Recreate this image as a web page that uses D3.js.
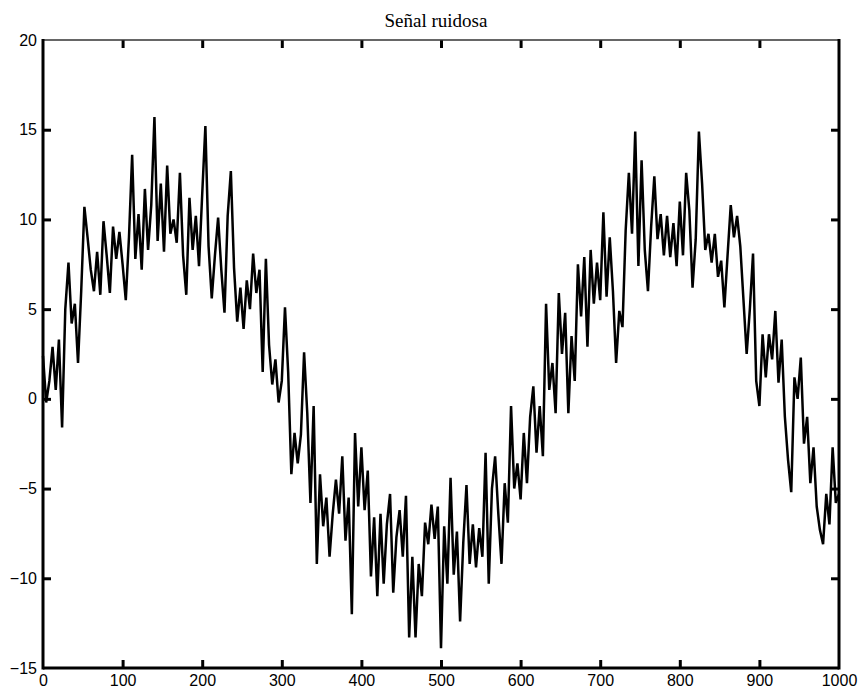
<!DOCTYPE html>
<html>
<head>
<meta charset="utf-8">
<script src="https://cdn.jsdelivr.net/npm/d3@7"></script>
<style>
  body { margin: 0; background: #fff; }
  .tick text { font-family: "Liberation Sans", Arial, sans-serif; font-size: 16px; fill: #000; }
</style>
</head>
<body>
<svg id="chart" width="861" height="693"></svg>
<script>
// noisy signal, one value every `step` samples
const step = 4;
const signal = [
  // 0 - 96
  2.4, -0.2, 1.0, 2.9, 0.5, 3.3, -1.6, 5.0, 7.6, 4.2, 5.3, 2.0, 6.0, 10.7, 9.0, 7.2, 6.0, 8.2, 5.8, 9.9, 8.0, 5.9, 9.6, 7.8, 9.3,
  // 100 - 196
  7.5, 5.5, 9.0, 13.6, 7.8, 10.3, 7.2, 11.7, 8.3, 10.8, 15.7, 8.8, 12.0, 8.2, 13.0, 9.2, 10.0, 8.7, 12.6, 8.0, 5.8, 11.2, 8.3, 10.2, 7.4,
  // 200 - 296
  11.4, 15.2, 8.5, 5.6, 8.0, 10.1, 7.2, 4.8, 10.2, 12.7, 7.3, 4.3, 6.2, 3.9, 6.6, 5.0, 8.1, 5.9, 7.2, 1.5, 7.8, 3.0, 0.8, 2.2, -0.2,
  // 300 - 396
  1.0, 5.1, 1.5, -4.2, -1.9, -3.6, -2.0, 2.6, -0.8, -5.8, -0.4, -9.2, -4.2, -7.1, -5.5, -8.8, -6.4, -4.5, -6.4, -3.2, -7.9, -5.5, -12.0, -1.9, -6.0,
  // 400 - 496
  -2.7, -6.2, -4.0, -9.9, -6.6, -11.0, -6.4, -10.3, -7.0, -5.3, -10.8, -7.7, -6.2, -8.8, -5.4, -13.3, -8.8, -13.3, -9.2, -11.0, -6.9, -8.1, -5.9, -7.8, -6.0,
  // 500 - 596
  -13.9, -7.1, -10.3, -4.4, -9.8, -7.4, -12.4, -8.0, -4.8, -9.2, -7.0, -9.4, -7.2, -8.8, -3.0, -10.3, -5.0, -3.2, -6.4, -9.2, -4.7, -6.9, -0.4, -5.0, -3.6,
  // 600 - 696
  -5.6, -1.9, -4.7, -1.0, 0.7, -3.0, -0.4, -3.2, 5.3, 0.5, 2.0, -0.8, 5.9, 2.5, 4.8, -0.8, 3.5, 1.0, 7.5, 4.6, 7.9, 2.9, 8.3, 5.3, 7.6,
  // 700 - 796
  5.5, 10.4, 5.7, 9.0, 6.0, 2.0, 4.9, 4.0, 9.4, 12.6, 9.2, 14.9, 7.4, 13.3, 8.3, 6.0, 9.6, 12.4, 8.9, 10.3, 8.0, 10.2, 7.9, 9.8, 7.4,
  // 800 - 896
  11.0, 8.0, 12.6, 10.5, 6.2, 8.9, 14.9, 12.0, 8.3, 9.2, 7.6, 9.2, 6.8, 7.7, 5.1, 8.0, 10.8, 9.0, 10.2, 8.5, 5.5, 2.5, 5.0, 8.1, 1.0,
  // 900 - 1000
  -0.4, 3.6, 1.2, 3.6, 2.2, 4.9, 0.9, 3.3, -1.0, -3.4, -5.2, 1.2, 0.0, 2.3, -2.5, -1.0, -4.7, -2.7, -6.0, -7.3, -8.1, -5.3, -7.0, -2.7, -5.8,
  -5.3
];
const xTicks = [0, 100, 200, 300, 400, 500, 600, 700, 800, 900, 1000];
const yTicks = [-15, -10, -5, 0, 5, 10, 15, 20];
const title = "Señal ruidosa";

const svg = d3.select("#chart");
const margin = { left: 43, right: 22, top: 40, bottom: 25 };
const width = 861, height = 693;
const innerW = width - margin.left - margin.right;
const innerH = height - margin.top - margin.bottom;

const xScale = d3.scaleLinear().domain([0, 1000]).range([0, innerW]);
const yScale = d3.scaleLinear().domain([-15, 20]).range([innerH, 0]);

const g = svg.append("g")
  .attr("transform", `translate(${margin.left}, ${margin.top})`);

// signal
const line = d3.line()
  .x((d, i) => xScale(i * step))
  .y(d => yScale(d));

g.append("path")
  .datum(signal)
  .attr("fill", "none")
  .attr("stroke", "#000")
  .attr("stroke-width", 2.5)
  .attr("stroke-linejoin", "miter")
  .attr("d", line);

// axes, ticks pointing inward
const tickLen = 8;
const axBottom = g.append("g")
  .attr("transform", `translate(0, ${innerH})`)
  .call(d3.axisBottom(xScale).tickValues(xTicks).tickFormat(d3.format("d"))
    .tickSizeInner(-tickLen).tickSizeOuter(0).tickPadding(7));
const axTop = g.append("g")
  .call(d3.axisTop(xScale).tickValues(xTicks.slice(1, -1)).tickSizeInner(-tickLen).tickSizeOuter(0).tickFormat(""));
const axLeft = g.append("g")
  .call(d3.axisLeft(yScale).tickValues(yTicks).tickSizeInner(-tickLen).tickSizeOuter(0).tickPadding(6));
const axRight = g.append("g")
  .attr("transform", `translate(${innerW}, 0)`)
  .call(d3.axisRight(yScale).tickValues(yTicks.slice(1, -1)).tickSizeInner(-tickLen).tickSizeOuter(0).tickFormat(""));

[axBottom, axTop, axLeft, axRight].forEach(a => {
  a.select(".domain").remove();
  a.selectAll(".tick line").attr("stroke", "#000").attr("stroke-width", 3);
});
axLeft.selectAll(".tick")
  .filter(d => d === -15 || d === 20)
  .select("line").remove();
axBottom.selectAll(".tick")
  .filter(d => d === 0 || d === 1000)
  .select("line").remove();

// box
g.append("line")
  .attr("x1", 0).attr("x2", innerW).attr("y1", 0).attr("y2", 0)
  .attr("stroke", "#333").attr("stroke-width", 1.5);
g.append("line")
  .attr("x1", 0).attr("x2", 0).attr("y1", -1).attr("y2", innerH + 1.5)
  .attr("stroke", "#000").attr("stroke-width", 3);
g.append("line")
  .attr("x1", innerW).attr("x2", innerW).attr("y1", -1).attr("y2", innerH + 1.5)
  .attr("stroke", "#000").attr("stroke-width", 3);
g.append("line")
  .attr("x1", 0).attr("x2", innerW).attr("y1", innerH).attr("y2", innerH)
  .attr("stroke", "#000").attr("stroke-width", 3);

// title
svg.append("text")
  .attr("x", 436)
  .attr("y", 27)
  .attr("text-anchor", "middle")
  .attr("font-family", "'Liberation Serif', 'Times New Roman', serif")
  .attr("font-size", 19)
  .text(title);
</script>
</body>
</html>
